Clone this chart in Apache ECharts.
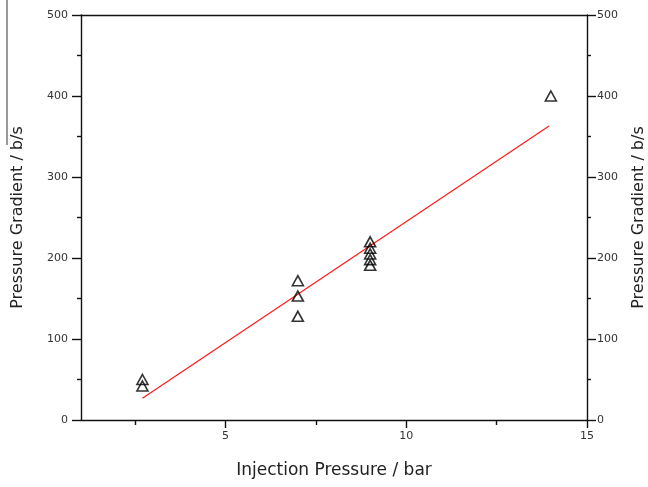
<!DOCTYPE html>
<html>
<head>
<meta charset="utf-8">
<script src="https://cdn.jsdelivr.net/npm/echarts@6/dist/echarts.min.js"></script>
<style>
  html, body { margin: 0; padding: 0; background: #fff; }
  #chart { width: 648px; height: 487px; }
</style>
</head>
<body>
<div id="chart"></div>
<script>
// Measured points: injection pressure (bar) vs. pressure gradient (b/s)
const injectionPressure = [2.7, 2.7, 7, 7, 7, 9, 9, 9, 9, 9, 14];
const pressureGradient  = [50, 42, 172, 153, 128, 220, 212, 205, 198, 191, 400];

// Linear fit endpoints [x, y]
const fitStart = [2.7, 27];
const fitEnd   = [13.95, 363];

// Axis ticks
const xMajorTicks = [5, 10, 15];
const xMinorTicks = [2.5, 7.5, 12.5];

const FONT = '"DejaVu Sans", "Liberation Sans", Arial, sans-serif';
const INK = '#111';

const points = injectionPressure.map((x, i) => [x, pressureGradient[i]]);

const chart = echarts.init(document.getElementById('chart'), null, { renderer: 'canvas' });

const yAxisBase = {
  type: 'value',
  min: 0, max: 500, interval: 100,
  name: 'Pressure Gradient / b/s',
  nameLocation: 'middle',
  nameRotate: 90,
  nameTextStyle: { fontFamily: FONT, fontSize: 16, color: '#222' },
  axisLine: { show: true, lineStyle: { color: INK, width: 1.4 } },
  axisTick: { show: true, inside: false, length: 9, lineStyle: { color: INK, width: 1.4 } },
  minorTick: { show: true, splitNumber: 2, length: 4, lineStyle: { color: INK, width: 1.4 } },
  axisLabel: { fontFamily: FONT, fontSize: 11, color: '#333' },
  splitLine: { show: false }
};

chart.setOption({
  animation: false,
  backgroundColor: '#fff',
  grid: { left: 81, right: 61, top: 15, bottom: 67, containLabel: false, outerBoundsMode: 'none' },
  xAxis: [
    {
      type: 'value',
      position: 'bottom',
      min: 1, max: 15,
      name: 'Injection Pressure / bar',
      nameLocation: 'middle',
      nameGap: 42,
      nameTextStyle: { fontFamily: FONT, fontSize: 17, color: '#222' },
      axisLine: { show: true, onZero: false, lineStyle: { color: INK, width: 1.4 } },
      axisTick: { show: true, length: 8, customValues: xMajorTicks, lineStyle: { color: INK, width: 1.4 } },
      axisLabel: { fontFamily: FONT, fontSize: 11, color: '#333', margin: 11, customValues: xMajorTicks },
      splitLine: { show: false }
    },
    {
      // minor ticks along the bottom edge
      type: 'value',
      position: 'bottom',
      min: 1, max: 15,
      axisLine: { show: false, onZero: false },
      axisTick: { show: true, length: 5, customValues: xMinorTicks, lineStyle: { color: INK, width: 1.4 } },
      axisLabel: { show: false },
      splitLine: { show: false }
    },
    {
      // top frame edge
      type: 'value',
      position: 'top',
      min: 1, max: 15,
      axisLine: { show: true, onZero: false, lineStyle: { color: INK, width: 1.4 } },
      axisTick: { show: false },
      axisLabel: { show: false },
      splitLine: { show: false }
    }
  ],
  yAxis: [
    Object.assign({}, yAxisBase, {
      position: 'left', nameGap: 55,
      axisLabel: Object.assign({}, yAxisBase.axisLabel, { margin: 13 })
    }),
    Object.assign({}, yAxisBase, {
      position: 'right', nameGap: 44,
      axisLabel: Object.assign({}, yAxisBase.axisLabel, { margin: 10 })
    })
  ],
  series: [
    {
      type: 'line',
      data: [fitStart, fitEnd],
      symbol: 'none',
      lineStyle: { color: '#ff1a1a', width: 1.2 },
      z: 2
    },
    {
      type: 'scatter',
      data: points,
      symbol: 'triangle',
      symbolSize: [11, 10],
      itemStyle: { color: 'rgba(255,255,255,0)', borderColor: '#000', borderWidth: 1.6 },
      z: 3
    }
  ],
  graphic: [
    {
      type: 'line',
      shape: { x1: 7, y1: 0, x2: 7, y2: 145 },
      style: { stroke: '#777', lineWidth: 1.5 }
    }
  ]
});
</script>
</body>
</html>
